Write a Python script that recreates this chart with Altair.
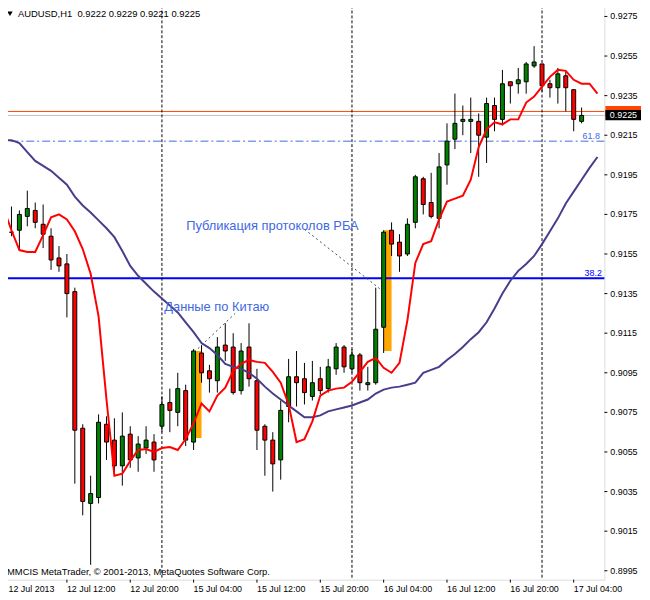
import json
import altair as alt
import pandas as pd

# ---------------- data ----------------
# H1 bars, index 0 = 12 Jul 2013 04:00 ... 73 = 17 Jul 05:00
OPEN = [0.9136, 0.9166, 0.9167, 0.9174, 0.9177, 0.9170, 0.9164, 0.9153, 0.9150, 0.9136,
        0.9067, 0.9029, 0.9032, 0.9069, 0.9061, 0.9048, 0.9064, 0.9052, 0.9057, 0.9060,
        0.9068, 0.9080, 0.9075, 0.9086, 0.9060, 0.9105, 0.9096, 0.9091, 0.9109, 0.9108,
        0.9086, 0.9108, 0.9091, 0.9068, 0.9061, 0.9051, 0.9078, 0.9093, 0.9092, 0.9083,
        0.9092, 0.9087, 0.9097, 0.9108, 0.9097, 0.9104, 0.9089, 0.9090, 0.9118, 0.9167,
        0.9161, 0.9155, 0.9171, 0.9193, 0.9181, 0.9173, 0.9200, 0.9213, 0.9222, 0.9222,
        0.9222, 0.9214, 0.9230, 0.9223, 0.9242, 0.9241, 0.9242, 0.9250, 0.9251, 0.9241,
        0.9239, 0.9245, 0.9238, 0.9222]
HIGH = [0.9166, 0.9179, 0.9177, 0.9187, 0.9181, 0.9180, 0.9168, 0.9159, 0.9155, 0.9138,
        0.9069, 0.9043, 0.9074, 0.9073, 0.9072, 0.9075, 0.9068, 0.9063, 0.9068, 0.9064,
        0.9083, 0.9087, 0.9095, 0.9089, 0.9107, 0.9109, 0.9099, 0.9113, 0.9120, 0.9115,
        0.9110, 0.9120, 0.9097, 0.9069, 0.9065, 0.9081, 0.9102, 0.9106, 0.9100, 0.9101,
        0.9098, 0.9102, 0.9110, 0.9109, 0.9107, 0.9105, 0.9098, 0.9138, 0.9167, 0.9171,
        0.9165, 0.9173, 0.9195, 0.9194, 0.9196, 0.9206, 0.9221, 0.9236, 0.9230, 0.9234,
        0.9226, 0.9234, 0.9234, 0.9248, 0.9242, 0.9249, 0.9252, 0.9260, 0.9251, 0.9243,
        0.9249, 0.9247, 0.9238, 0.9229]
LOW = [0.9135, 0.9164, 0.9157, 0.9169, 0.9168, 0.9158, 0.9147, 0.9146, 0.9123, 0.9039,
       0.9023, 0.8998, 0.9029, 0.9051, 0.9043, 0.9038, 0.9047, 0.9045, 0.9054, 0.9045,
       0.9065, 0.9065, 0.9068, 0.9058, 0.9056, 0.9090, 0.9085, 0.9085, 0.9101, 0.9084,
       0.9084, 0.9088, 0.9056, 0.9043, 0.9035, 0.9041, 0.9070, 0.9078, 0.9079, 0.9081,
       0.9084, 0.9085, 0.9094, 0.9095, 0.9095, 0.9086, 0.9086, 0.9089, 0.9105, 0.9154,
       0.9146, 0.9154, 0.9168, 0.9175, 0.9173, 0.9168, 0.9190, 0.9208, 0.9215, 0.9206,
       0.9194, 0.9201, 0.9217, 0.9220, 0.9231, 0.9236, 0.9236, 0.9249, 0.9237, 0.9234,
       0.9231, 0.9227, 0.9217, 0.9221]
CLOSE = [0.9165, 0.9166, 0.9175, 0.9178, 0.9171, 0.9165, 0.9152, 0.9149, 0.9135, 0.9066,
         0.9030, 0.9034, 0.9070, 0.9060, 0.9048, 0.9063, 0.9051, 0.9059, 0.9061, 0.9051,
         0.9079, 0.9076, 0.9087, 0.9061, 0.9106, 0.9095, 0.9092, 0.9108, 0.9106, 0.9085,
         0.9106, 0.9092, 0.9066, 0.9061, 0.9049, 0.9076, 0.9093, 0.9090, 0.9085, 0.9090,
         0.9086, 0.9098, 0.9108, 0.9098, 0.9104, 0.9090, 0.9090, 0.9117, 0.9166, 0.9160,
         0.9154, 0.9170, 0.9194, 0.9180, 0.9174, 0.9199, 0.9212, 0.9221, 0.9223, 0.9223,
         0.9215, 0.9231, 0.9223, 0.9241, 0.9240, 0.9243, 0.9251, 0.9252, 0.9240, 0.9239,
         0.9246, 0.9239, 0.9223, 0.9225]

# moving averages (shifted, so they run two bars past the last bar)
MA_FAST = [0.9178, 0.9167, 0.9157, 0.9156, 0.9156, 0.91645, 0.91735, 0.9175, 0.91725, 0.91665,
           0.91575, 0.9145, 0.91235, 0.90815, 0.9043, 0.9044, 0.90505, 0.9056, 0.90565, 0.9055,
           0.9057, 0.90575, 0.9056, 0.90615, 0.90695, 0.90795, 0.90755, 0.90835, 0.90875, 0.9096,
           0.90995, 0.91015, 0.91005, 0.9100, 0.90955, 0.9090, 0.9079, 0.9060, 0.90615, 0.90705,
           0.90835, 0.9086, 0.9087, 0.90875, 0.90905, 0.90955, 0.91005, 0.91025, 0.90975, 0.9095,
           0.9100, 0.91215, 0.91505, 0.9160, 0.91615, 0.91725, 0.91815, 0.9183, 0.91845, 0.91925,
           0.9209, 0.9218, 0.92215, 0.92205, 0.9223, 0.9223, 0.92315, 0.92345, 0.92395, 0.92445,
           0.9248, 0.92475, 0.9243, 0.9241, 0.9241, 0.9236]
MA_SLOW = [0.92125, 0.92125, 0.9211, 0.92065, 0.9202, 0.91995, 0.9197, 0.91935, 0.9190, 0.9184,
           0.91795, 0.9176, 0.9172, 0.9168, 0.91635, 0.91565, 0.9149, 0.9144, 0.9140, 0.9136,
           0.91325, 0.9129, 0.91255, 0.91205, 0.91155, 0.9110, 0.91075, 0.9104, 0.90995, 0.9098,
           0.9097, 0.9095, 0.9092, 0.9088, 0.90845, 0.90815, 0.90785, 0.90755, 0.90725, 0.90725,
           0.90735, 0.90755, 0.90765, 0.90775, 0.90785, 0.9080, 0.90815, 0.90845, 0.90865, 0.90875,
           0.9088, 0.9089, 0.9090, 0.9095, 0.90965, 0.9098, 0.91015, 0.91045, 0.9108, 0.9112,
           0.91155, 0.91205, 0.91275, 0.9135, 0.91415, 0.91465, 0.9150, 0.9154, 0.9160, 0.91665,
           0.9173, 0.91805, 0.91865, 0.91925, 0.91985, 0.9204]

X_TICK_BARS = [0, 8, 16, 24, 32, 40, 48, 56, 64, 72]
X_LABELS = ["12 Jul 2013", "12 Jul 12:00", "12 Jul 20:00", "15 Jul 04:00", "15 Jul 12:00",
            "15 Jul 20:00", "16 Jul 04:00", "16 Jul 12:00", "16 Jul 20:00", "17 Jul 04:00"]
Y_TICKS = [0.8995, 0.9015, 0.9035, 0.9055, 0.9075, 0.9095, 0.9115, 0.9135, 0.9155,
           0.9175, 0.9195, 0.9215, 0.9235, 0.9255, 0.9275]
DAY_SEPARATORS = [20, 44, 68]

BID = 0.9225
ASK = 0.9227
FIB_618 = 0.9212
FIB_382 = 0.914275

ZONE_START = [24, 48]
ZONE_END = [25, 49]
ZONE_TOP = [0.9106, 0.9167]
ZONE_BOTTOM = [0.9062, 0.9106]

TREND_SEG = ["china", "china", "rba", "rba"]
TREND_BAR = [24.1, 29.25, 38.0, 47.5]
TREND_PRICE = [0.91055, 0.9125, 0.91675, 0.91375]

NOTE_TEXT = ["Публикация протоколов РБА", "Данные по Китаю"]
NOTE_BAR = [23.06, 20.3]
NOTE_PRICE = [0.9167, 0.9126]

FIB_LABEL_BAR = [75.31, 75.56]
FIB_LABEL_PRICE = [0.921325, 0.914375]
FIB_LABEL_TEXT = ["61.8", "38.2"]

TITLE = "AUDUSD,H1\u00a0\u00a00.9222 0.9229 0.9221 0.9225"
FOOTER = "MMCIS MetaTrader, © 2001-2013, MetaQuotes Software Corp."

FONT = "Liberation Sans"

# ---------------- scales / axes ----------------
xs = alt.Scale(domain=[0, 75.875], nice=False, zero=False)
ys = alt.Scale(domain=[0.89905, 0.92805], nice=False, zero=False)

# first label is drawn separately (nudged right so it stays inside the page)
label_expr = json.dumps([""] + X_LABELS[1:]) + "[round(datum.value / 8)]"
xaxis = alt.Axis(values=X_TICK_BARS, labelExpr=label_expr, title=None, grid=False,
                 domain=False, ticks=True, tickColor="black", tickSize=3,
                 labelAlign="left", labelBaseline="top", labelPadding=2,
                 labelFont=FONT, labelFontSize=9, labelColor="black",
                 labelFlush=False, labelOverlap=False, translate=0)
yaxis = alt.Axis(values=Y_TICKS, format=".4f", orient="right", title=None, grid=False,
                 domain=False, tickColor="black", tickSize=3, labelPadding=3,
                 labelAlign="left", labelBaseline="middle",
                 labelFont=FONT, labelFontSize=9, labelColor="black",
                 labelFlush=False, labelOverlap=False, translate=0)


def X(f):
    return alt.X(f, type="quantitative", scale=xs, axis=xaxis)


def Y(f):
    return alt.Y(f, type="quantitative", scale=ys, axis=yaxis)


bars = pd.DataFrame({"k": list(range(len(OPEN))), "open": OPEN, "high": HIGH,
                     "low": LOW, "close": CLOSE})
bars["dir"] = ["up" if c >= o else "down" for o, c in zip(OPEN, CLOSE)]

ma = pd.DataFrame({"k": list(range(len(MA_FAST))), "fast": MA_FAST, "slow": MA_SLOW})

zones = pd.DataFrame({"k0": ZONE_START, "k1": ZONE_END, "top": ZONE_TOP, "bottom": ZONE_BOTTOM})
hlines = pd.DataFrame({"bid": [BID], "ask": [ASK], "f618": [FIB_618], "f382": [FIB_382]})
seps = pd.DataFrame({"k": DAY_SEPARATORS})
trend = pd.DataFrame({"seg": TREND_SEG, "k": TREND_BAR, "price": TREND_PRICE})
notes = pd.DataFrame({"text": NOTE_TEXT, "k": NOTE_BAR, "price": NOTE_PRICE})
fibl = pd.DataFrame({"text": FIB_LABEL_TEXT, "k": FIB_LABEL_BAR, "price": FIB_LABEL_PRICE})

zone_layer = alt.Chart(zones).mark_rect(color="#FFA500").encode(
    x=X("k0"), x2="k1", y=Y("top"), y2="bottom")

bid_layer = alt.Chart(hlines).mark_rule(color="#C0C0C0", strokeWidth=1).encode(y=Y("bid"))
ask_layer = alt.Chart(hlines).mark_rule(color="#FF4500", strokeWidth=1).encode(y=Y("ask"))
f618_layer = alt.Chart(hlines).mark_rule(color="#4169E1", strokeWidth=1,
                                          strokeDash=[8, 3, 2, 3]).encode(y=Y("f618"))
f382_layer = alt.Chart(hlines).mark_rule(color="#0000FF", strokeWidth=2).encode(y=Y("f382"))

sep_layer = alt.Chart(seps).mark_rule(color="black", strokeWidth=1,
                                      strokeDash=[3, 2]).encode(x=X("k"))

wick_layer = alt.Chart(bars).mark_rule(color="black", strokeWidth=1).encode(
    x=X("k"), y=Y("low"), y2="high")

body_layer = alt.Chart(bars).transform_calculate(
    kl="datum.k - 0.25", kr="datum.k + 0.25"
).mark_rect(stroke="black", strokeWidth=1).encode(
    x=X("kl"), x2="kr", y=Y("open"), y2="close",
    fill=alt.Fill("dir:N", scale=alt.Scale(domain=["up", "down"], range=["#008000", "#FF0000"]),
                  legend=None))

slow_layer = alt.Chart(ma).mark_line(color="#483D8B", strokeWidth=2).encode(x=X("k"), y=Y("slow"))
fast_layer = alt.Chart(ma).mark_line(color="#FF0000", strokeWidth=2).encode(x=X("k"), y=Y("fast"))

trend_layer = alt.Chart(trend).mark_line(color="#2F4F4F", strokeWidth=1,
                                         strokeDash=[2, 3]).encode(
    x=X("k"), y=Y("price"), detail="seg:N")

notes_layer = alt.Chart(notes).mark_text(align="left", baseline="alphabetic", font=FONT,
                                         fontSize=13, color="#4169E1").encode(
    x=X("k"), y=Y("price"), text="text:N")

fib_lbl_a = alt.Chart(fibl).transform_filter("datum.text == '61.8'").mark_text(
    align="right", baseline="alphabetic", font=FONT, fontSize=9, color="#4169E1").encode(
    x=X("k"), y=Y("price"), text="text:N")
fib_lbl_b = alt.Chart(fibl).transform_filter("datum.text == '38.2'").mark_text(
    align="right", baseline="alphabetic", font=FONT, fontSize=9, color="#0000FF").encode(
    x=X("k"), y=Y("price"), text="text:N")

# price labels on the right scale
boxes = pd.DataFrame({"price": [ASK, BID], "label": ["%.4f" % ASK, "%.4f" % BID]})
ask_box = alt.Chart(boxes).transform_filter("datum.price == %r" % ASK).transform_calculate(
    hi="datum.price + 0.00027", lo="datum.price - 0.00027"
).mark_rect(color="#FF4500").encode(
    x=alt.value(608), x2=alt.value(644), y=Y("hi"), y2="lo")
bid_box = alt.Chart(boxes).transform_filter("datum.price == %r" % BID).transform_calculate(
    hi="datum.price + 0.00028", lo="datum.price - 0.00025"
).mark_rect(color="black").encode(
    x=alt.value(608), x2=alt.value(644), y=Y("hi"), y2="lo")
bid_txt = alt.Chart(boxes).transform_filter("datum.price == %r" % BID).mark_text(
    align="left", baseline="middle", font=FONT, fontSize=9, color="white").encode(
    x=alt.value(612.5), y=Y("price"), text="label:N")

title_df = pd.DataFrame({"t": [TITLE]})
footer_df = pd.DataFrame({"t": [FOOTER]})
first_df = pd.DataFrame({"t": [X_LABELS[0]]})
title_layer = alt.Chart(title_df).mark_text(align="left", baseline="alphabetic", font=FONT,
                                            fontSize=9.5, color="black").encode(
    x=alt.value(14.5), y=alt.value(11.5), text="t:N")
tri_layer = alt.Chart(title_df).mark_point(shape="triangle-down", filled=True, color="black",
                                           size=30, opacity=1).encode(
    x=alt.value(6.5), y=alt.value(8.3))
footer_layer = alt.Chart(footer_df).mark_text(align="left", baseline="alphabetic", font=FONT,
                                              fontSize=9.5, color="black").encode(
    x=alt.value(3.5), y=alt.value(575.5), text="t:N")
first_label = alt.Chart(first_df).mark_text(align="left", baseline="top", font=FONT,
                                            fontSize=9, color="black").encode(
    x=alt.value(5), y=alt.value(585), text="t:N")

chart = alt.layer(
    zone_layer, bid_layer, ask_layer, f618_layer, f382_layer, sep_layer,
    wick_layer, body_layer, slow_layer, fast_layer, trend_layer,
    notes_layer, fib_lbl_a, fib_lbl_b, ask_box, bid_box, bid_txt,
    title_layer, tri_layer, footer_layer, first_label
).properties(
    width=607, height=580,
    padding={"left": -4.5, "top": -5.5, "right": 38, "bottom": 16},
    autosize=alt.AutoSizeParams(type="none"),
    background="white",
).configure_view(
    stroke="black", strokeWidth=1, fill="white"
).configure(font=FONT)

chart.save("out.html", embed_options={"renderer": "svg", "actions": False})
